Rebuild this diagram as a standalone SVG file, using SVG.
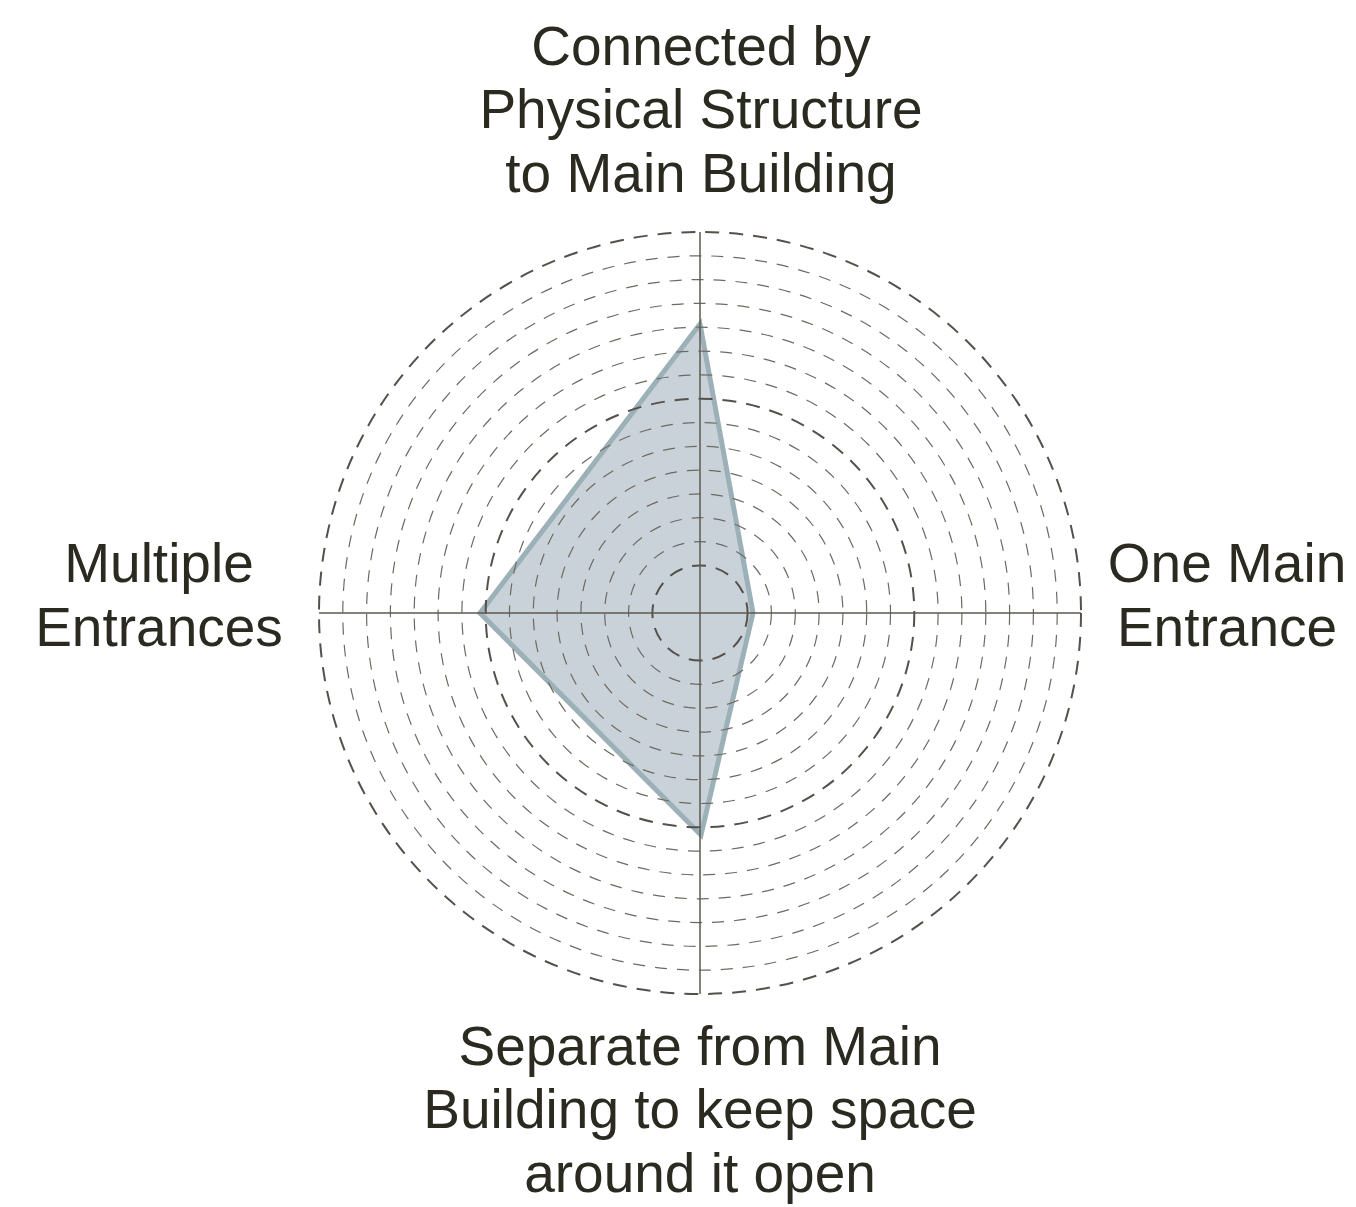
<svg xmlns="http://www.w3.org/2000/svg" width="1356" height="1207" viewBox="0 0 1356 1207">
<style>
.bg{fill:#ffffff}
.data{fill:#c9d2d8;stroke:#9cb0b8;stroke-width:5;stroke-linejoin:miter}
.ring{fill:none;stroke:#6e6a62;stroke-width:1.2;stroke-dasharray:12 10}
.ring-major{fill:none;stroke:#55514a;stroke-width:2;stroke-dasharray:14 10}
.axis{stroke:#5c5850;stroke-width:1.5;fill:none}
.lbl{font-family:"Liberation Sans",Arial,sans-serif;font-size:55px;fill:#2a2a20;text-anchor:middle}
</style>
<rect class="bg" x="0" y="0" width="1356" height="1207"/>
<g id="data-area">
<polygon class="data" points="700,324 753,613 701,835 480,613"/>
</g>
<g id="grid">
<circle class="ring-major" cx="700" cy="613" r="47.6"/>
<circle class="ring" cx="700" cy="613" r="71.4"/>
<circle class="ring" cx="700" cy="613" r="95.3"/>
<circle class="ring" cx="700" cy="613" r="119.1"/>
<circle class="ring" cx="700" cy="613" r="142.9"/>
<circle class="ring" cx="700" cy="613" r="166.7"/>
<circle class="ring" cx="700" cy="613" r="190.5"/>
<circle class="ring-major" cx="700" cy="613" r="214.3"/>
<circle class="ring" cx="700" cy="613" r="238.1"/>
<circle class="ring" cx="700" cy="613" r="261.9"/>
<circle class="ring" cx="700" cy="613" r="285.8"/>
<circle class="ring" cx="700" cy="613" r="309.6"/>
<circle class="ring" cx="700" cy="613" r="333.4"/>
<circle class="ring" cx="700" cy="613" r="357.2"/>
<circle class="ring-major" cx="700" cy="613" r="381"/>
</g>
<g id="connectors">
<line class="axis" x1="319" y1="613" x2="1081" y2="613"/>
<line class="axis" x1="700" y1="232" x2="700" y2="994"/>
</g>
<g id="label-top">
<text class="lbl" x="701" y="65">Connected by</text>
<text class="lbl" x="701" y="128">Physical Structure</text>
<text class="lbl" x="701" y="192">to Main Building</text>
</g>
<g id="label-right">
<text class="lbl" x="1227" y="582">One Main</text>
<text class="lbl" x="1227" y="646">Entrance</text>
</g>
<g id="label-bottom">
<text class="lbl" x="700" y="1065">Separate from Main</text>
<text class="lbl" x="700" y="1128">Building to keep space</text>
<text class="lbl" x="700" y="1192">around it open</text>
</g>
<g id="label-left">
<text class="lbl" x="159" y="582">Multiple</text>
<text class="lbl" x="159" y="646">Entrances</text>
</g>
</svg>
